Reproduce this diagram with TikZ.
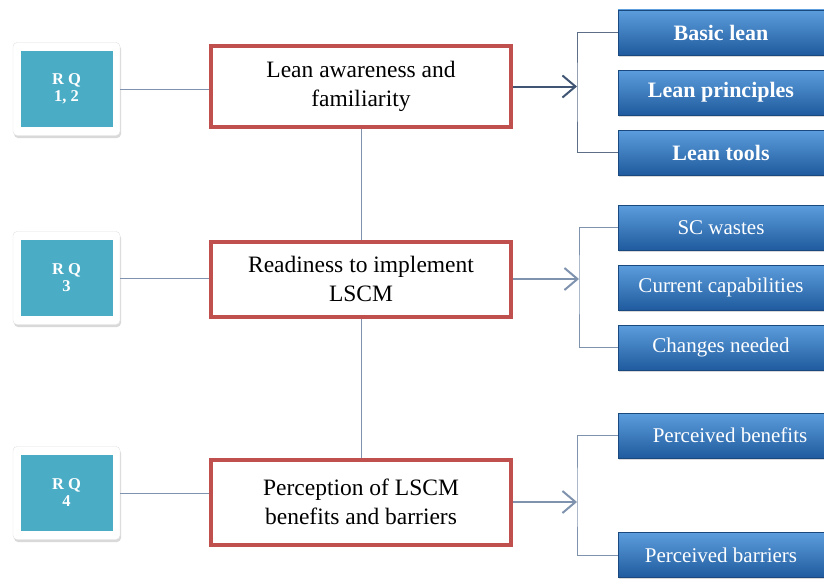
\documentclass[tikz,border=0pt]{standalone}
\usepackage{fontspec}
\setmainfont{Liberation Serif}
\usetikzlibrary{arrows.meta,shadows,positioning}
\definecolor{rqteal}{HTML}{4BACC6}
\definecolor{boxred}{HTML}{C0504D}
\definecolor{linkgray}{HTML}{7F93AE}
\definecolor{linkdark}{HTML}{3F5573}
\definecolor{bluetop}{HTML}{5C9DDD}
\definecolor{bluebot}{HTML}{1F5B9E}
\tikzset{
  rqframe/.style={draw=black!12, fill=white, rounded corners=4pt,
    minimum width=107pt, minimum height=93pt,
    drop shadow={opacity=0.3, shadow xshift=1pt, shadow yshift=-2.5pt}},
  rqbox/.style={fill=rqteal, text=white, align=center, inner sep=0pt,
    minimum width=92pt, minimum height=76pt,
    font=\fontsize{16.5}{17}\selectfont\bfseries},
  topic/.style={draw=boxred, line width=4pt, fill=white, align=center,
    minimum width=300pt, inner sep=0pt, font=\fontsize{23.5}{29}\selectfont},
  itembox/.style={top color=bluetop, bottom color=bluebot, draw=bluebot!80!black,
    text=white, minimum width=206pt, minimum height=45pt, inner sep=0pt,
    font=\fontsize{21}{24}\selectfont,
    drop shadow={opacity=0.3, shadow xshift=1pt, shadow yshift=-2pt}},
  itembold/.style={itembox, font=\fontsize{22}{24}\selectfont\bfseries},
  link/.style={draw=linkgray, line width=1pt},
  feed/.style={link, line width=2pt, -{Straight Barb[length=13pt,width=22pt]}},
}
\begin{document}
\begin{tikzpicture}[x=1pt, y=-1pt]
  \useasboundingbox (0,0) rectangle (824,578);

  \node[rqframe] (rq1f) at (66.5,89) {};
  \node[rqbox] (rq1) at (rq1f) {R Q\\1, 2};
  \node[rqframe] (rq2f) at (66.5,278) {};
  \node[rqbox] (rq2) at (rq2f) {R Q\\3};
  \node[rqframe] (rq3f) at (66.5,493) {};
  \node[rqbox] (rq3) at (rq3f) {R Q\\4};

  \node[topic, minimum height=80pt] (lean) at (361,86.5) {Lean awareness and\\familiarity};
  \node[topic, minimum height=75pt] (ready) at (361,279) {Readiness to implement\\LSCM};
  \node[topic, minimum height=85pt] (percep) at (361,502) {Perception of LSCM\\benefits and barriers};

  \node[itembold] (basic) at (721,32.5) {Basic lean};
  \node[itembold] (princ) at (721,92.5) {Lean principles};
  \node[itembold] (tools) at (721,152.5) {Lean tools};

  \node[itembox] (waste) at (721,227.5) {SC wastes};
  \node[itembox] (capab) at (721,287.5) {Current capabilities};
  \node[itembox] (change) at (721,347.5) {Changes needed};

  \node[itembox] (benef) at (721,435.5) {\hspace*{18pt}Perceived benefits};
  \node[itembox] (barr) at (721,555) {Perceived barriers};

  \coordinate (b1) at (577,92);
  \coordinate (b2) at (579,282);
  \coordinate (b3) at (577,499);

  \draw[link] (rq1f.east) -- (rq1f.east -| lean.west);
  \draw[link] (rq2f.east) -- (rq2f.east -| ready.west);
  \draw[link] (rq3f.east) -- (rq3f.east -| percep.west);

  \draw[link] (lean) -- (ready);
  \draw[link] (ready) -- (percep);

  \draw[feed, draw=linkdark] (lean.east) -- (lean.east -| b1);
  \draw[feed] (ready.east) -- (ready.east -| b2);
  \draw[feed] (percep.east) -- (percep.east -| b3);

  \draw[link, draw=linkdark!85] (basic.west) -| (b1) |- (tools.west);
  \draw[link] (waste.west) -| (b2) |- (change.west);
  \draw[link] (benef.west) -| (b3) |- (barr.west);
\end{tikzpicture}
\end{document}
